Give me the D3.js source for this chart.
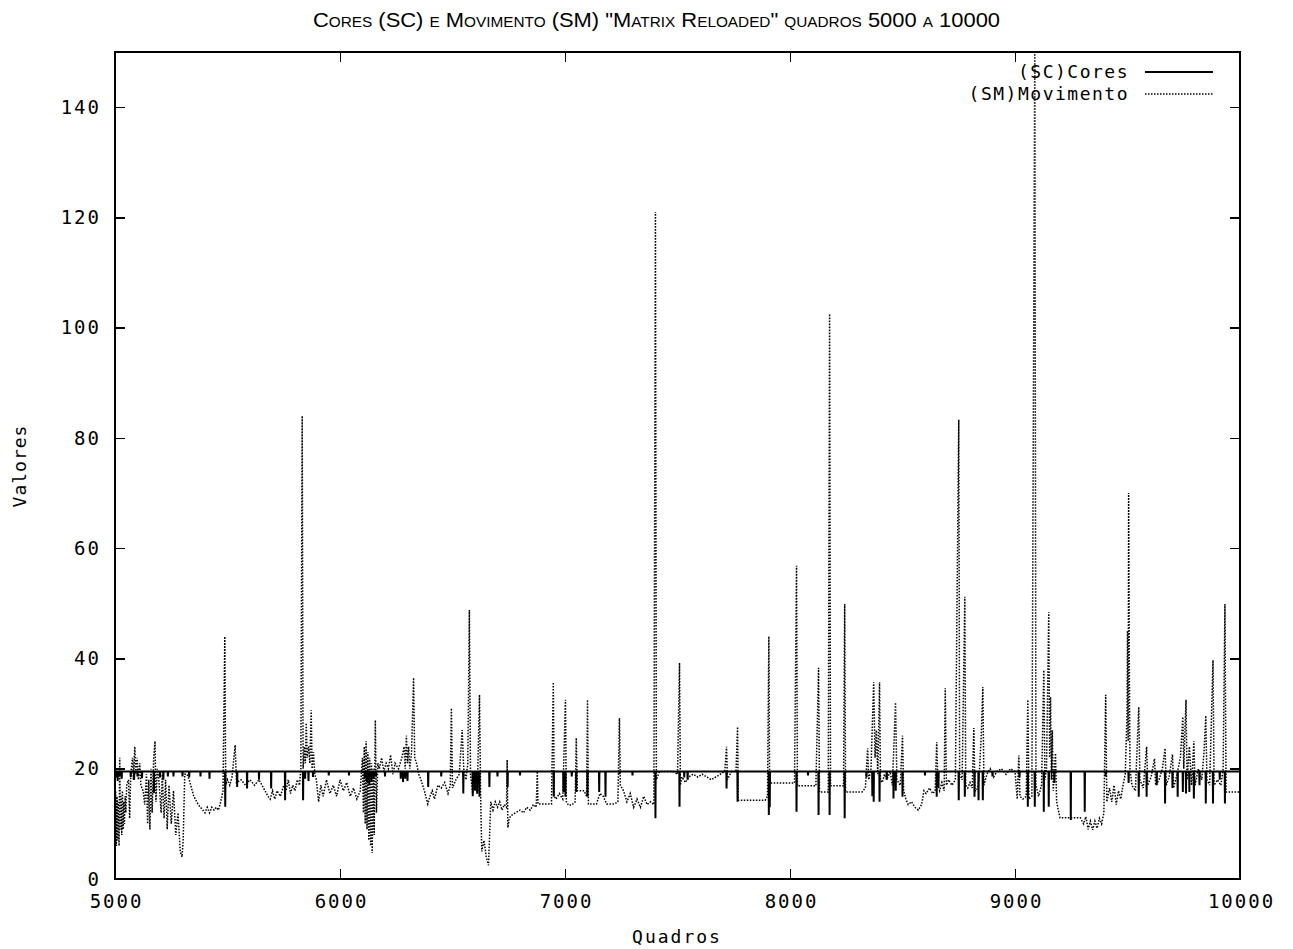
<!DOCTYPE html>
<html>
<head>
<meta charset="utf-8">
<script src="https://cdn.jsdelivr.net/npm/d3@7"></script>
<style>
  body { margin: 0; background: #fff; }
  text { fill: #000; }
</style>
</head>
<body>
<svg id="chart" width="1293" height="949"></svg>
<script>
// axis ticks
const xTicks = [5000, 6000, 7000, 8000, 9000, 10000];
const yTicks = [0, 20, 40, 60, 80, 100, 120, 140];
const seriesNames = ["(SC)Cores", "(SM)Movimento"];

// SC (cores): flat level with downward drops [quadro, valor]
const scLevel = 19.5;
const scDips = [
  [5005,18.4],[5012,17.8],[5020,18.6],[5030,18.2],[5070,18.5],[5085,18.0],[5100,18.6],[5120,18.3],
  [5173,15.6],[5200,18.4],[5215,18.0],[5235,18.6],[5260,18.6],[5300,18.6],[5330,18.4],[5380,18.6],
  [5420,18.2],[5490,13.1],[5543,16.7],[5587,16.4],[5640,18.0],[5694,16.4],[5756,14.3],[5836,14.3],
  [5845,18.2],[5860,17.8],[5880,18.5],[5950,18.8],[6040,18.8],[6110,18.2],[6120,17.6],[6130,17.2],
  [6140,17.8],[6150,18.2],[6160,18.6],[6200,18.6],[6270,18.2],[6280,17.6],[6290,18.2],[6300,17.8],
  [6392,16.7],[6450,18.6],[6548,15.5],[6590,15.0],[6600,16.0],[6610,15.5],[6620,14.9],[6664,16.7],
  [6700,18.6],[6745,16.7],[6800,18.8],[6950,14.9],[6993,15.8],[7002,14.9],[7030,18.6],[7050,15.8],
  [7100,14.9],[7152,15.8],[7180,14.9],[7242,19.0],[7300,18.8],[7402,11.0],[7509,13.1],[7530,18.4],
  [7545,18.0],[7718,16.4],[7767,14.0],[7906,11.6],[7910,13.0],[8029,12.2],[8080,18.8],[8127,11.6],
  [8176,11.6],[8243,11.0],[8340,18.4],[8366,15.0],[8372,14.0],[8398,14.0],[8430,18.0],[8460,14.6],
  [8470,16.0],[8500,14.9],[8600,18.8],[8652,14.9],[8660,16.7],[8750,14.3],[8777,14.9],[8820,14.9],
  [8838,14.3],[8857,14.3],[8900,18.6],[9020,18.4],[9057,13.1],[9088,13.1],[9128,12.2],[9150,13.1],
  [9175,17.4],[9248,10.7],[9310,12.2],[9403,18.6],[9505,17.4],[9550,14.9],[9585,14.9],[9630,17.0],
  [9667,13.7],[9700,16.5],[9723,14.9],[9746,15.8],[9760,15.5],[9775,15.8],[9795,14.6],[9820,17.0],
  [9848,13.7],[9880,13.7],[9910,18.0],[9933,13.7]
];

// SM (movimento) [quadro, valor]
const smPoints = [
  [5000,8],[5003,16],[5006,6],[5009,15],[5012,7],[5015,14],[5018,6],[5021,22],[5024,9],[5027,15],
  [5030,8],[5033,16],[5036,9],[5039,14],[5042,10],[5045,15],[5048,12],[5052,17],
  [5060,18],[5065,11],[5070,19],[5078,22],[5082,18],[5088,24],[5092,19],[5098,22],[5104,18],
  [5110,21],[5115,17],[5125,16],[5132,13.5],
  [5140,19],[5145,10],[5150,18],[5155,9],[5160,20],[5165,12],[5172,22],[5178,25],[5182,14],[5188,20],
  [5195,18],[5205,12],[5210,19],[5218,11],[5225,18],[5232,9],[5240,17],[5250,10],[5260,16],
  [5270,8],[5280,12],[5290,5],[5298,4],[5303,7],[5310,19],[5320,19],[5330,18],[5350,15],
  [5370,13.5],[5390,12.5],[5400,12],[5410,13],[5420,12],[5430,13],[5440,12.5],[5450,13],
  [5460,12.5],[5470,14],[5480,16],[5488,44],[5492,17],
  [5500,18],[5510,17],[5520,18.5],[5534,24.3],[5540,17.5],[5560,18],[5580,17],[5600,18],
  [5620,17],[5640,18],[5660,16.5],[5680,15],[5690,14.5],[5700,16],[5710,14.5],[5720,16],
  [5735,15],[5750,17],[5760,16],[5770,18],[5780,15.5],[5790,17],[5800,16],[5810,18],[5820,17],
  [5826,20],[5832,84],[5836,20],[5842,24],[5846,21],[5850,28.3],[5854,22],[5860,24],[5866,21],
  [5872,30.6],[5876,20],[5882,23],[5888,19],
  [5895,18],[5905,14],[5915,17],[5925,15],[5940,18],[5955,15.5],[5970,17],[5985,15],[6000,18],
  [6015,16],[6030,17.5],[6045,15],[6060,16.5],[6075,14.5],[6090,16],
  [6100,22],[6104,12],[6108,24],[6112,10],[6116,25],[6120,9],[6124,23],[6128,7],[6132,22],
  [6136,6],[6140,21],[6143,4.7],[6148,20],[6152,8],[6157,28.8],[6162,12],[6168,21],
  [6175,20],[6185,22],[6195,19.5],[6205,21],[6215,20],[6225,22.5],[6235,19],[6245,21],[6260,20],
  [6275,22],[6285,24],[6290,20],[6295,26],[6300,21],[6305,24],[6310,20],[6318,23],[6327,36.5],
  [6332,22],[6340,21],[6350,19],
  [6360,18],[6375,16],[6390,13.6],[6400,15],[6410,16],[6420,14.5],[6435,17],[6450,16.5],
  [6465,17.5],[6480,15.5],[6490,17],[6495,31],[6500,16.5],
  [6515,18],[6530,19],[6543,27],[6550,20],[6560,18],[6568,21],[6575,48.8],[6580,19],[6590,15.5],
  [6600,18],[6610,15.5],[6620,33.4],[6625,15],[6630,5],[6640,7],[6650,4],[6660,2.5],[6665,8],
  [6670,14],[6680,12.5],[6690,14],[6700,13],[6710,14],[6720,12.5],[6730,13.5],[6740,13],
  [6743,21.6],[6746,9.3],[6752,11],[6760,11.5],[6780,12],[6800,12.5],[6815,12],[6830,13],
  [6845,12.5],[6860,13.5],[6872,13],[6877,19.5],[6880,13.6],[6900,13.6],[6920,13.6],[6940,13.6],
  [6948,35.7],[6952,15],[6960,14.5],[6975,15.5],[6990,14.5],[7002,32.5],[7006,14],
  [7015,13.4],[7030,13.4],[7045,14],[7050,25.6],[7055,16],[7070,16],[7085,16],[7096,15],
  [7100,32.5],[7104,13.6],[7120,13.6],[7140,13.6],[7155,15.5],[7170,15],[7185,13.6],[7200,13.6],
  [7220,13.6],[7235,14],[7242,29.2],[7246,17],[7260,16],[7275,14],[7290,15.5],[7305,13],
  [7320,14.5],[7335,13],[7350,15],[7365,13.5],[7380,14],[7395,13.5],[7402,121],[7406,18],
  [7420,19.5],[7450,19.5],[7480,19.5],[7500,19],[7509,39.2],[7513,17],
  [7520,18.5],[7535,17.5],[7550,18.5],[7570,19],[7590,18.5],[7610,19],[7630,18.5],[7650,18],
  [7670,18.5],[7690,19],[7710,19.5],[7718,24],[7722,18],[7740,19.5],[7760,19.5],[7767,27.6],
  [7770,14.3],[7800,14.3],[7830,14.3],[7860,14.3],[7890,14.3],[7900,15],[7903,30],[7906,44],
  [7909,20],[7912,17.4],[7940,17.4],[7970,17.4],[8000,17.4],[8020,17.4],[8029,56.8],[8033,16.9],
  [8060,16.9],[8090,16.9],[8115,16.9],[8127,38.3],[8131,15.8],[8150,15.8],[8170,15.8],
  [8176,102.5],[8180,16.9],[8200,16.9],[8220,16.9],[8238,16.9],[8243,49.9],[8247,15.8],
  [8270,15.8],[8300,15.8],[8320,15.8],[8335,16.5],[8345,23.7],[8350,18],
  [8360,20],[8366,28],[8372,35.7],[8378,22],[8384,27],[8390,19],[8398,35.7],[8402,18],
  [8410,17.5],[8420,19],[8430,18],[8445,19.5],[8455,17],[8469,32],[8475,18],[8490,17],
  [8500,26],[8505,16],[8515,14.5],[8525,13.5],[8540,14],[8555,13],[8570,12.5],[8585,13.5],
  [8595,16],[8605,15.5],[8620,16.5],[8635,15.5],[8645,16],[8652,24.8],[8658,17],
  [8665,16],[8675,17.5],[8685,16],[8690,34.6],[8695,17],[8705,18],[8720,17],[8735,18],
  [8750,83.3],[8754,19],[8765,18],[8777,51.2],[8781,17],[8790,16.5],[8800,17.5],[8810,16.5],
  [8817,27.4],[8822,16],[8830,16],[8840,18],[8850,26],[8857,34.8],[8862,17],
  [8875,19],[8890,20],[8905,18.5],[8920,19.5],[8940,20],[8960,19],[8980,20],[9000,19.5],
  [9010,14.5],[9017,22.4],[9022,15],[9035,14.5],[9050,15],[9057,32.5],[9062,14.5],[9075,15],
  [9088,150],[9093,17],[9105,15],[9118,17],[9128,37.9],[9133,18],[9140,20],[9150,48.4],
  [9154,22],[9158,33],[9162,18],[9166,27],[9170,16],[9180,22.8],[9185,14],
  [9200,11.1],[9230,11.1],[9260,11.1],[9290,11.1],[9305,10],[9315,11.3],[9325,9],[9335,10.5],
  [9345,8.9],[9355,10.5],[9365,9.2],[9375,11],[9385,10],[9395,12],[9403,33.4],[9408,14],
  [9420,16.5],[9430,14],[9440,17],[9450,13.5],[9460,16],[9470,14.5],[9480,17],[9490,19],
  [9498,30],[9500,45],[9503,25],[9505,70],[9508,40],[9511,20],
  [9520,17],[9535,16],[9550,31.2],[9555,18],[9570,16.5],[9585,24],[9590,17],[9605,18.5],
  [9620,21.8],[9625,17],[9640,18],[9655,20],[9667,23.7],[9672,17],[9685,18.5],[9700,22.6],
  [9705,16.5],[9720,19],[9735,22],[9746,29.4],[9750,20],[9760,32.5],[9765,18],[9775,24],
  [9785,17],[9795,25],[9800,17],[9815,20],[9830,18],[9840,23],[9848,29.6],[9853,18],
  [9865,17],[9880,39.7],[9885,17],[9900,18],[9915,17],[9925,20],[9933,49.9],[9938,15.8],
  [9960,15.8],[9980,15.8],[10000,15.8]
];

// build SC polyline from its level and drops
const scPoints = [[5000, scLevel]];
scDips.forEach(([f, v]) => {
  scPoints.push([f - 1, scLevel], [f, v], [f + 1, scLevel]);
});
scPoints.push([10000, scLevel]);

const margin = {left: 115, right: 1240, top: 52, bottom: 879};
const svg = d3.select("#chart");

const x = d3.scaleLinear().domain([5000, 10000]).range([margin.left, margin.right]);
const y = d3.scaleLinear().domain([0, 150]).range([margin.bottom, margin.top]);

const monoFont = "'DejaVu Sans Mono', monospace";

// title
svg.append("text")
  .attr("x", 313)
  .attr("y", 27)
  .attr("textLength", 687)
  .attr("lengthAdjust", "spacingAndGlyphs")
  .style("font-family", "'Liberation Sans', Arial, sans-serif")
  .style("font-size", "20px")
  .style("font-variant", "small-caps")
  .text('Cores (SC) e Movimento (SM) "Matrix Reloaded" quadros 5000 a 10000');

// axes
function styleAxis(g) {
  g.select(".domain").remove();
  g.selectAll(".tick line").attr("stroke", "#000").attr("stroke-width", 1.5)
    .attr("shape-rendering", "crispEdges");
  g.selectAll(".tick text")
    .style("font-family", monoFont)
    .style("font-size", "19px")
    .style("letter-spacing", "2px")
    .attr("fill", "#000");
}

svg.append("g")
  .attr("transform", `translate(0,${margin.bottom})`)
  .call(d3.axisBottom(x).tickValues(xTicks).tickSize(-10).tickPadding(16).tickFormat(d3.format("d")))
  .call(styleAxis)
  .call(g => g.selectAll(".tick text").attr("dx", "1px"));

svg.append("g")
  .attr("transform", `translate(0,${margin.top})`)
  .call(d3.axisTop(x).tickValues(xTicks).tickSize(-10).tickFormat(""))
  .call(styleAxis);

svg.append("g")
  .attr("transform", `translate(${margin.left},0)`)
  .call(d3.axisLeft(y).tickValues(yTicks).tickSize(-10).tickPadding(14).tickFormat(d3.format("d")))
  .call(styleAxis);

svg.append("g")
  .attr("transform", `translate(${margin.right},0)`)
  .call(d3.axisRight(y).tickValues(yTicks).tickSize(-10).tickFormat(""))
  .call(styleAxis);

// frame
svg.append("rect")
  .attr("x", margin.left)
  .attr("y", margin.top)
  .attr("width", margin.right - margin.left)
  .attr("height", margin.bottom - margin.top)
  .attr("fill", "none")
  .attr("stroke", "#000")
  .attr("stroke-width", 2)
  .attr("shape-rendering", "crispEdges");

// axis labels
svg.append("text")
  .attr("x", 677)
  .attr("y", 943)
  .attr("text-anchor", "middle")
  .style("font-family", monoFont)
  .style("font-size", "18px")
  .style("letter-spacing", "2px")
  .text("Quadros");

svg.append("text")
  .attr("transform", "translate(26,466) rotate(-90)")
  .attr("text-anchor", "middle")
  .style("font-family", monoFont)
  .style("font-size", "18px")
  .style("letter-spacing", "1px")
  .text("Valores");

// series
const line = d3.line().x(d => x(d[0])).y(d => y(d[1]));

const plot = svg.append("g");

plot.append("path")
  .datum(scPoints)
  .attr("d", line)
  .attr("fill", "none")
  .attr("stroke", "#000")
  .attr("stroke-width", 2);

plot.append("path")
  .datum(smPoints)
  .attr("d", line)
  .attr("fill", "none")
  .attr("stroke", "#000")
  .attr("stroke-width", 1.5)
  .attr("stroke-dasharray", "1.5,1.5");

// legend
const legend = svg.append("g");
const legendStyles = [
  {width: 2, dash: null},
  {width: 1.5, dash: "1.5,1.5"}
];
seriesNames.forEach((name, i) => {
  const ly = 72 + i * 22;
  legend.append("text")
    .attr("x", 1129)
    .attr("y", ly)
    .attr("dy", "0.35em")
    .attr("text-anchor", "end")
    .style("font-family", monoFont)
    .style("font-size", "18px")
    .style("letter-spacing", "1.5px")
    .text(name);
  legend.append("line")
    .attr("x1", 1145).attr("x2", 1213)
    .attr("y1", ly).attr("y2", ly)
    .attr("stroke", "#000")
    .attr("stroke-width", legendStyles[i].width)
    .attr("stroke-dasharray", legendStyles[i].dash);
});
</script>
</body>
</html>
